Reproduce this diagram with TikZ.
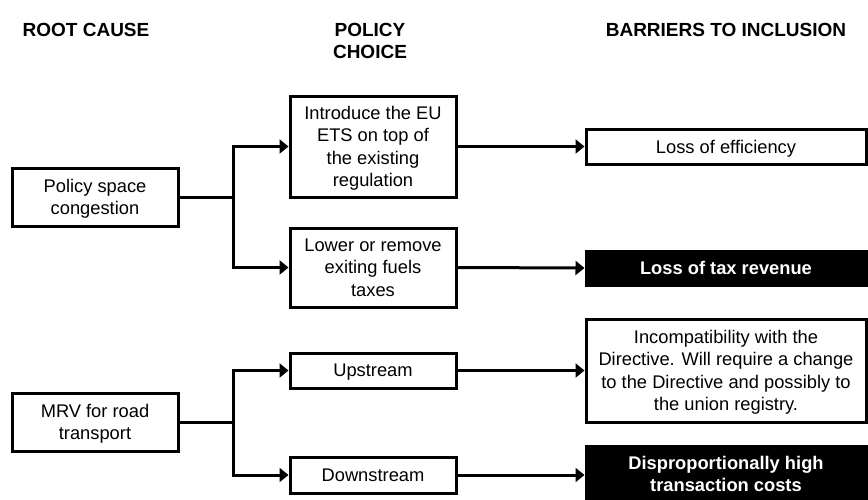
\documentclass[tikz,border=0pt]{standalone}
\usepackage{fontspec}
\setmainfont{Liberation Sans}
\usetikzlibrary{arrows.meta}
\begin{document}
\begin{tikzpicture}[x=1pt,y=-1pt,
  box/.style={draw=black,line width=3pt,rectangle,inner sep=0pt,align=center,text depth=0pt,
    font=\fontsize{18.3}{22.5}\selectfont},
  darkbox/.style={box,fill=black,text=white,font=\fontsize{18.3}{22.5}\selectfont\bfseries},
  header/.style={align=center,inner sep=0pt,font=\fontsize{19}{21.5}\selectfont\bfseries},
  conn/.style={line width=3pt},
  arr/.style={conn,-{Triangle[length=9pt,width=14pt]}}]
\useasboundingbox (0,0) rectangle (868,499);
% headers
\node[header] (h1) at (86,30) {ROOT CAUSE};
\node[header] (h2) at (370,41) {POLICY\\CHOICE};
\node[header] (h3) at (726,30) {BARRIERS TO INCLUSION};
% root causes
\node[box,minimum width=166,minimum height=58] (psc) at (95,197) {Policy space\\congestion};
\node[box,minimum width=166,minimum height=58] (mrv) at (95,422) {MRV for road\\transport};
% policy choices
\node[box,minimum width=166,minimum height=101] (intro) at (373,146.5) {Introduce the EU\\ETS on top of\\the existing\\regulation};
\node[box,minimum width=166,minimum height=79] (lower) at (373,267.5) {Lower or remove\\exiting fuels\\taxes};
\node[box,minimum width=166,minimum height=35] (up) at (373,370.5) {Upstream};
\node[box,minimum width=166,minimum height=36] (down) at (373,475) {Downstream};
% barriers
\node[box,minimum width=280,minimum height=35] (eff) at (726,146.5) {Loss of efficiency};
\node[darkbox,minimum width=280,minimum height=34] (tax) at (726,268) {Loss of tax revenue};
\node[box,minimum width=280,minimum height=103] (inc) at (726,370.5) {Incompatibility with the\\Directive. Will require a change\\to the Directive and possibly to\\the union registry.};
\node[darkbox,minimum width=280,minimum height=56] (disp) at (726,474) {Disproportionally high\\transaction costs};
% junctions
\coordinate (j1) at (233,197);
\coordinate (j2) at (233,422);
% connectors
\draw[conn] (psc.east) -- (j1);
\draw[arr] (j1) |- (intro.west);
\draw[arr] (j1) |- (lower.west);
\draw[conn] (mrv.east) -- (j2);
\draw[arr] (j2) |- (up.west);
\draw[arr] (j2) |- (down.west);
\draw[arr] (intro.east) -- (eff.west);
\draw[arr] (lower.east) -- (tax.west);
\draw[arr] (up.east) -- (inc.west);
\draw[arr] (down.east) -- (disp.west |- down.east);
\end{tikzpicture}
\end{document}
